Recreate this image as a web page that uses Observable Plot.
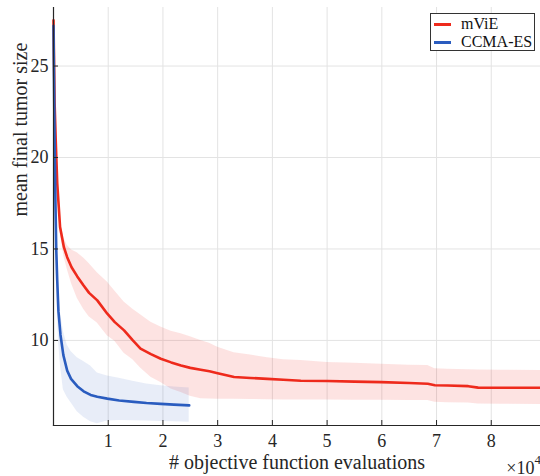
<!DOCTYPE html>
<html>
<head>
<meta charset="utf-8">
<script src="https://cdn.jsdelivr.net/npm/d3@7"></script>
<script src="https://cdn.jsdelivr.net/npm/@observablehq/plot@0.6"></script>
<style>
  html, body { margin: 0; padding: 0; background: #fff; }
  #wrap { position: relative; width: 540px; height: 476px; font-family: "Liberation Serif", serif; }
  #legend { position: absolute; left: 430px; top: 13px; width: 105px; height: 38px; border: 1px solid #333; background: #fff; box-sizing: border-box; }
  .item { position: absolute; left: 0; height: 18px; font-size: 16px; color: #111; line-height: 18px; }
  .swatch { position: absolute; left: 3px; top: 8px; width: 17px; height: 3px; }
  .lab { position: absolute; left: 30px; top: 0; white-space: nowrap; }
  svg text { font-family: "Liberation Serif", serif; }
</style>
</head>
<body>
<div id="wrap">
  <div id="chart"></div>
  <div id="legend"></div>
</div>
<script>
// ---- data ----
const seriesNames = ["mViE", "CCMA-ES"];
const seriesColors = ["#ee2a1c", "#2a5cbf"];

const mvieEvals = [0, 200, 400, 680, 1200, 1900, 2500, 3300, 4340, 5500, 6500, 8000, 9830, 11200, 12900, 14500, 15900, 17800, 19600, 21500, 23300, 25000, 26900, 28500, 30000, 33000, 36000, 39100, 42000, 45200, 50000, 55000, 59900, 65000, 68400, 69700, 72000, 75800, 77600, 82000, 89000];
const mvieMean = [27.5, 23.0, 21.0, 18.6, 16.2, 15.1, 14.55, 14.0, 13.5, 13.0, 12.6, 12.19, 11.46, 11.0, 10.55, 10.0, 9.55, 9.25, 9.0, 8.8, 8.63, 8.5, 8.4, 8.32, 8.21, 8.0, 7.95, 7.9, 7.85, 7.8, 7.78, 7.75, 7.72, 7.67, 7.63, 7.55, 7.54, 7.5, 7.42, 7.41, 7.41];
const mvieUpper = [27.5, 23.3, 21.3, 18.9, 16.5, 15.6, 15.2, 14.95, 14.8, 14.5, 14.2, 13.7, 13.2, 12.7, 12.1, 11.7, 11.4, 11.0, 10.73, 10.5, 10.37, 10.2, 10.0, 9.85, 9.63, 9.33, 9.2, 9.05, 8.95, 8.9, 8.8, 8.75, 8.7, 8.65, 8.63, 8.45, 8.42, 8.4, 8.38, 8.37, 8.36];
const mvieLower = [27.5, 22.7, 20.7, 18.3, 15.9, 14.6, 13.9, 13.1, 12.3, 11.7, 11.3, 10.95, 10.25, 9.95, 9.3, 8.95, 8.5, 7.99, 7.7, 7.35, 7.15, 6.95, 6.81, 6.8, 6.79, 6.78, 6.77, 6.76, 6.75, 6.75, 6.74, 6.73, 6.73, 6.72, 6.72, 6.62, 6.6, 6.58, 6.53, 6.51, 6.5];

const ccmaEvals = [0, 100, 200, 370, 500, 680, 900, 1280, 1800, 2500, 3200, 4340, 5500, 6780, 8000, 9830, 12000, 14700, 17000, 19600, 22000, 24800];
const ccmaMean = [27.2, 24.0, 21.0, 17.3, 15.0, 13.3, 11.6, 10.3, 9.2, 8.35, 7.9, 7.5, 7.22, 7.02, 6.92, 6.82, 6.72, 6.64, 6.58, 6.53, 6.49, 6.45];
const ccmaUpper = [27.2, 24.3, 21.5, 18.0, 16.0, 14.5, 12.9, 11.5, 10.5, 9.75, 9.4, 9.05, 8.85, 8.6, 8.22, 8.05, 7.93, 7.75, 7.62, 7.52, 7.45, 7.4];
const ccmaLower = [27.2, 23.6, 20.4, 16.4, 13.8, 11.8, 10.0, 8.6, 7.3, 6.9, 6.6, 6.1, 5.8, 5.56, 5.45, 5.6, 5.63, 5.61, 5.59, 5.57, 5.55, 5.53];

const xTicks = [10000, 20000, 30000, 40000, 50000, 60000, 70000, 80000];
const yTicks = [10, 15, 20, 25];
const xLabel = "# objective function evaluations";
const yLabel = "mean final tumor size";
const xExpBase = "×10";
const xExpPow = "4";

// ---- build tables ----
const mvie = mvieEvals.map((e, i) => ({e, m: mvieMean[i], hi: mvieUpper[i], lo: mvieLower[i]}));
const ccma = ccmaEvals.map((e, i) => ({e, m: ccmaMean[i], hi: ccmaUpper[i], lo: ccmaLower[i]}));

const ink = "#262626";
const ff = "Liberation Serif";
const chart = Plot.plot({
  width: 540,
  height: 476,
  marginLeft: 53,
  marginRight: 0,
  marginTop: 7,
  marginBottom: 51,
  x: {domain: [0, 89000]},
  y: {domain: [5.35, 28.2]},
  style: {fontFamily: ff, color: ink, background: "#fff", overflow: "visible"},
  marks: [
    Plot.gridX(xTicks, {stroke: "#e3e3e3", strokeOpacity: 1}),
    Plot.gridY(yTicks, {stroke: "#e3e3e3", strokeOpacity: 1}),
    Plot.areaY(mvie, {x: "e", y1: "lo", y2: "hi", fill: seriesColors[0], fillOpacity: 0.13}),
    Plot.areaY(ccma, {x: "e", y1: "lo", y2: "hi", fill: seriesColors[1], fillOpacity: 0.11}),
    Plot.line(mvie, {x: "e", y: "m", stroke: seriesColors[0], strokeWidth: 2.6}),
    Plot.line(ccma, {x: "e", y: "m", stroke: seriesColors[1], strokeWidth: 2.6}),
    Plot.axisX(xTicks, {tickSize: 0, tickPadding: 9, tickFormat: d => d / 1e4, fontSize: 18, fontFamily: ff, label: null}),
    Plot.axisX(xTicks, {tickSize: -5, tickFormat: () => "", label: null, stroke: ink}),
    Plot.axisY(yTicks, {tickSize: 0, tickPadding: 5, fontSize: 18, fontFamily: ff, label: null}),
    Plot.axisY(yTicks, {tickSize: -5, tickFormat: () => "", label: null, stroke: ink}),
    Plot.frame({anchor: "left", stroke: ink, strokeWidth: 1.2}),
    Plot.frame({anchor: "bottom", stroke: ink, strokeWidth: 1.2}),
    Plot.text([xLabel], {frameAnchor: "bottom", dy: 37, lineAnchor: "middle", fontSize: 20, fontFamily: ff, fill: ink}),
    Plot.text([yLabel], {frameAnchor: "left", dx: -33, rotate: -90, lineAnchor: "middle", fontSize: 20, fontFamily: ff, fill: ink}),
    Plot.text([xExpBase], {frameAnchor: "bottom-right", dx: -6, dy: 48, textAnchor: "end", lineAnchor: "bottom", fontSize: 18, fontFamily: ff, fill: ink}),
    Plot.text([xExpPow], {frameAnchor: "bottom-right", dx: -6, dy: 38, textAnchor: "start", lineAnchor: "bottom", fontSize: 13, fontFamily: ff, fill: ink})
  ]
});
document.getElementById("chart").appendChild(chart);

// ---- legend ----
const legend = document.getElementById("legend");
seriesNames.forEach((name, i) => {
  const item = document.createElement("div");
  item.className = "item";
  item.style.top = (1 + i * 18) + "px";
  item.style.width = "100%";
  const sw = document.createElement("div");
  sw.className = "swatch";
  sw.style.background = seriesColors[i];
  const lab = document.createElement("div");
  lab.className = "lab";
  lab.textContent = name;
  item.appendChild(sw);
  item.appendChild(lab);
  legend.appendChild(item);
});
</script>
</body>
</html>
